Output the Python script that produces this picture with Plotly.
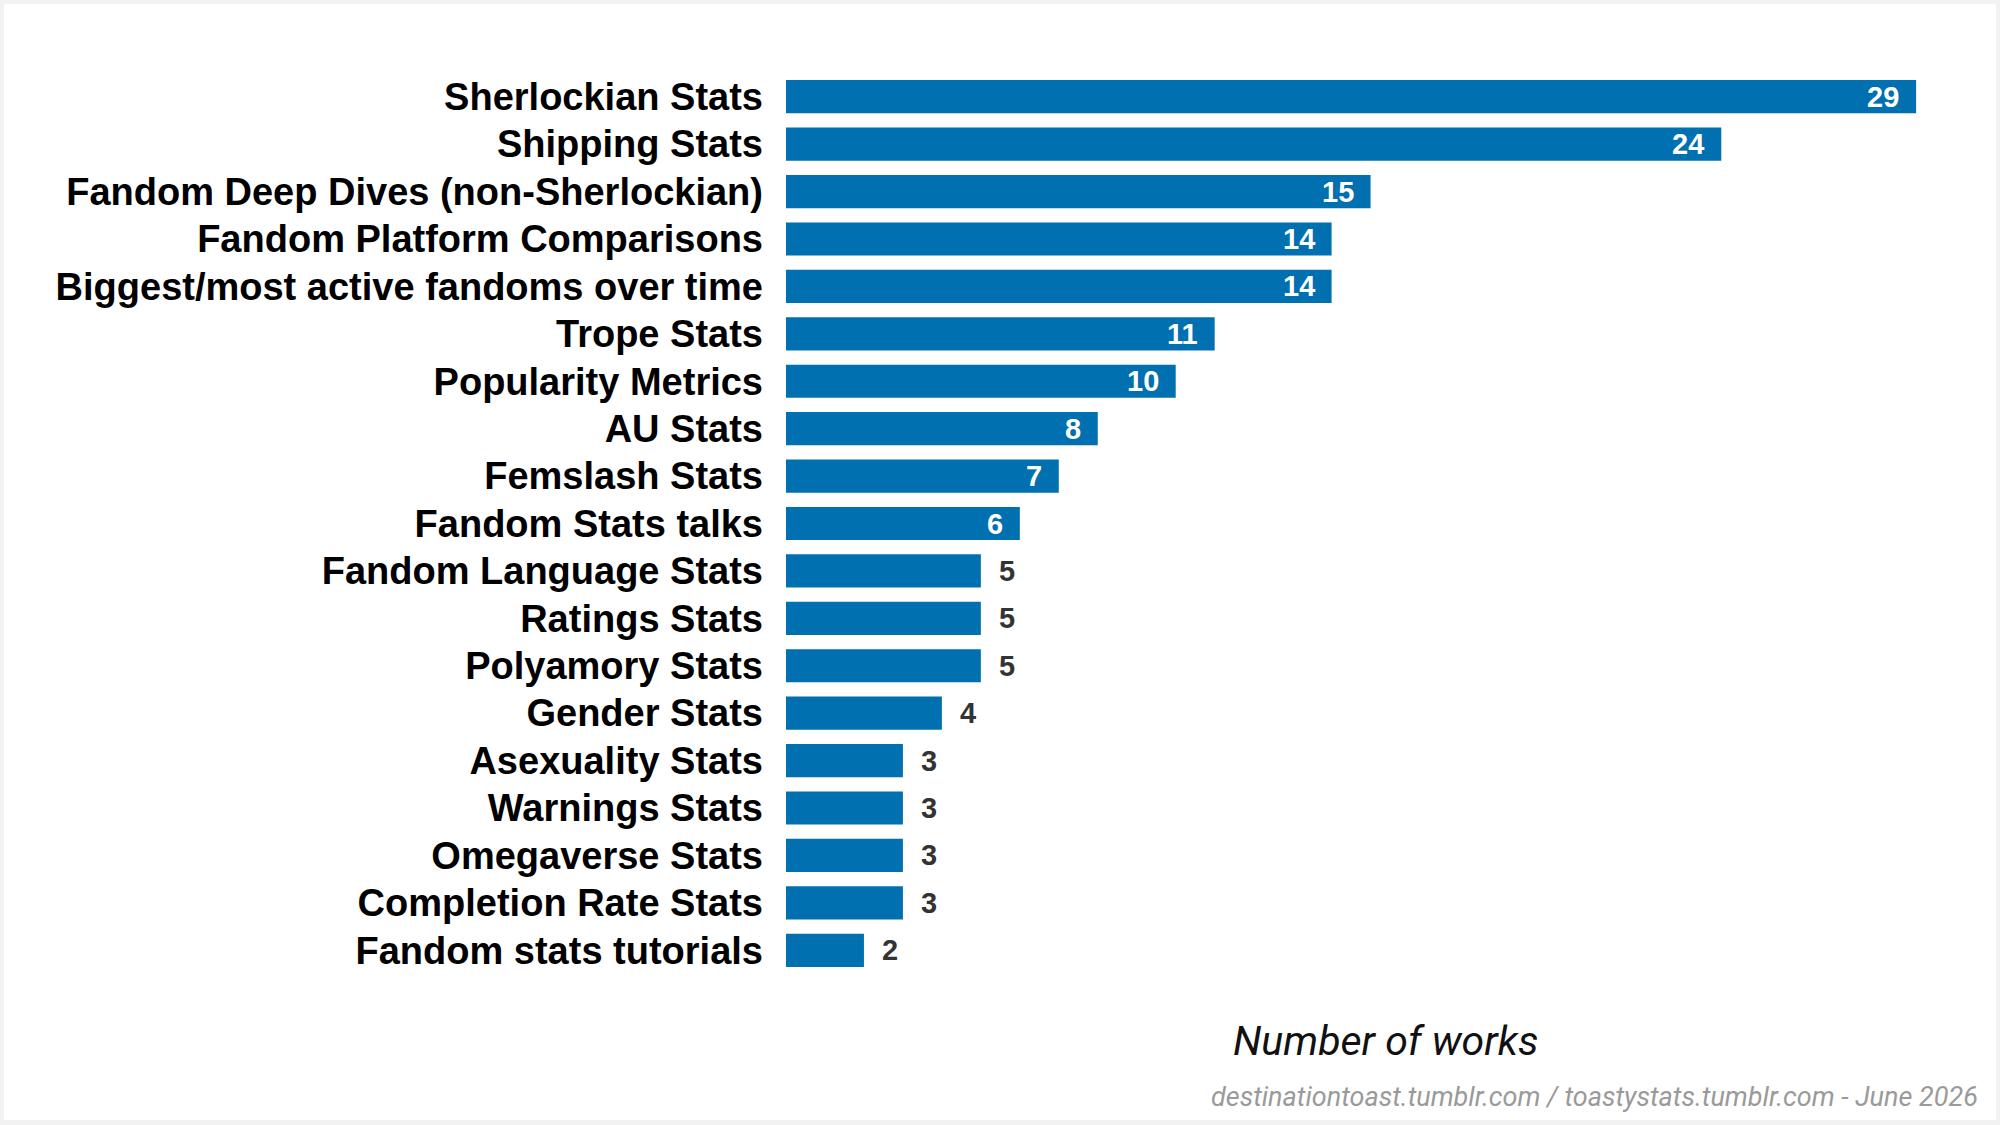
import plotly.graph_objects as go

# categories top to bottom, and the number of works for each
categories = [
    "Sherlockian Stats",
    "Shipping Stats",
    "Fandom Deep Dives (non-Sherlockian)",
    "Fandom Platform Comparisons",
    "Biggest/most active fandoms over time",
    "Trope Stats",
    "Popularity Metrics",
    "AU Stats",
    "Femslash Stats",
    "Fandom Stats talks",
    "Fandom Language Stats",
    "Ratings Stats",
    "Polyamory Stats",
    "Gender Stats",
    "Asexuality Stats",
    "Warnings Stats",
    "Omegaverse Stats",
    "Completion Rate Stats",
    "Fandom stats tutorials",
]
works = [29, 24, 15, 14, 14, 11, 10, 8, 7, 6, 5, 5, 5, 4, 3, 3, 3, 3, 2]

x_title = "Number of works"
footnote = "destinationtoast.tumblr.com / toastystats.tumblr.com - June 2026"

BAR_COLOR = "#0070b0"
W, H = 2000, 1125
# plot area in pixels
L, R, T, B = 786, 1984, 73, 974


def paper_x(px):
    return (px - L) / (R - L)


def paper_y(py):
    return (B - py) / (B - T)


fig = go.Figure()

fig.add_trace(
    go.Bar(
        x=works,
        y=categories,
        orientation="h",
        marker=dict(color=BAR_COLOR, line=dict(width=0)),
        hoverinfo="skip",
    )
)

# value labels: white inside the long bars, dark outside the short ones
annotations = []
for cat, val in zip(categories, works):
    if val >= 6:
        annotations.append(dict(
            x=val, y=cat, xref="x", yref="y", text=str(val), showarrow=False,
            xanchor="right", xshift=-15,
            font=dict(family="Liberation Sans, Arial, sans-serif", size=29, color="white", weight="bold"),
        ))
    else:
        annotations.append(dict(
            x=val, y=cat, xref="x", yref="y", text=str(val), showarrow=False,
            xanchor="left", xshift=16,
            font=dict(family="Liberation Sans, Arial, sans-serif", size=29, color="#333333", weight="bold"),
        ))

# axis title and source line
annotations.append(dict(
    x=0.5, y=paper_y(1041), xref="paper", yref="paper", text=x_title, showarrow=False,
    xanchor="center", yanchor="middle",
    font=dict(family="Roboto, sans-serif", size=41, color="#111111", style="italic"),
))
annotations.append(dict(
    x=paper_x(1980), y=paper_y(1097), xref="paper", yref="paper", text=footnote, showarrow=False,
    xanchor="right", yanchor="middle",
    font=dict(family="Roboto, sans-serif", size=27, color="#9a9a9a", style="italic"),
))

# white card on a light grey frame
shapes = [dict(
    type="rect", xref="paper", yref="paper", layer="below",
    x0=paper_x(4), x1=paper_x(1996), y0=paper_y(1120), y1=paper_y(4),
    fillcolor="white", line=dict(width=0),
)]

fig.update_layout(
    width=W,
    height=H,
    margin=dict(l=L, r=W - R, t=T, b=H - B),
    paper_bgcolor="#f2f2f2",
    plot_bgcolor="rgba(0,0,0,0)",
    bargap=0.3,
    showlegend=False,
    annotations=annotations,
    shapes=shapes,
    xaxis=dict(
        range=[0, (R - L) / 38.97],
        showgrid=False,
        zeroline=False,
        showticklabels=False,
        ticks="",
        fixedrange=True,
    ),
    yaxis=dict(
        categoryorder="array",
        categoryarray=categories,
        autorange="reversed",
        showgrid=False,
        zeroline=False,
        ticks="",
        ticklabelstandoff=22,
        tickfont=dict(family="Liberation Sans, Arial, sans-serif", size=38, color="black", weight="bold"),
        fixedrange=True,
    ),
)

# drop the page's default body margin so the figure sits at the window corner
fig.write_html(
    "out.html",
    config={"displayModeBar": False},
    post_script="document.body.style.margin = '0';",
)
